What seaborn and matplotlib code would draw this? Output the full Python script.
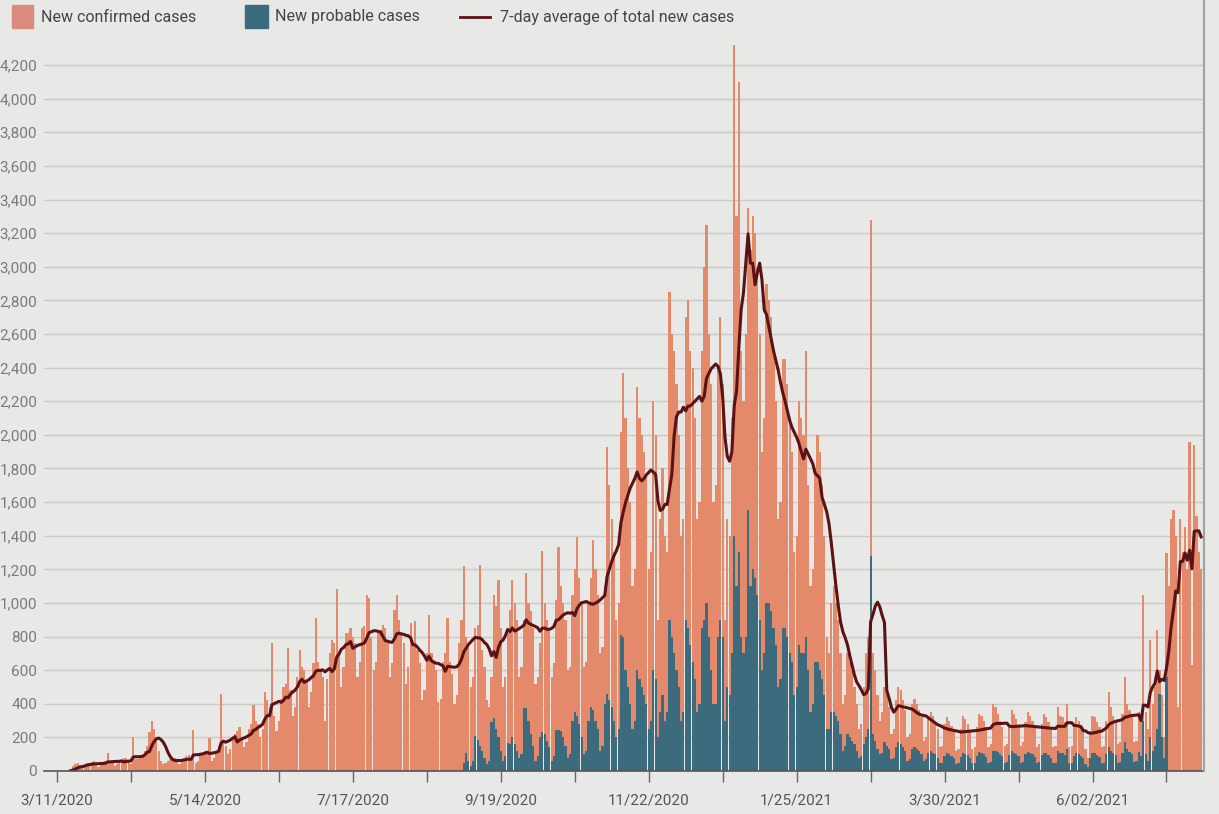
import numpy as np
import pandas as pd
import matplotlib.pyplot as plt
from matplotlib.patches import Rectangle
from matplotlib.lines import Line2D
import seaborn as sns

# Daily new cases (confirmed + probable), one row per week, first day 3/11/2020
total_cases = [
    0, 0, 0, 0, 0, 5, 10,
    30, 40, 45, 35, 20, 30, 45,
    50, 55, 60, 40, 25, 35, 50,
    60, 110, 60, 50, 30, 40, 55,
    70, 75, 80, 60, 40, 200, 70,
    70, 80, 90, 120, 150, 230, 300,
    250, 200, 120, 60, 40, 50, 60,
    70, 80, 75, 60, 40, 55, 80,
    90, 95, 60, 245, 50, 60, 95,
    110, 120, 100, 195, 60, 80, 120,
    150, 460, 180, 150, 100, 130, 190,
    220, 240, 260, 200, 140, 170, 250,
    280, 390, 300, 280, 200, 250, 470,
    420, 380, 760, 330, 240, 300, 430,
    500, 520, 730, 480, 330, 380, 560,
    720, 620, 600, 540, 380, 470, 640,
    910, 650, 600, 560, 300, 550, 700,
    780, 760, 1080, 700, 500, 620, 820,
    820, 850, 800, 760, 560, 650, 850,
    860, 1050, 1030, 800, 600, 650, 820,
    840, 870, 850, 780, 560, 640, 960,
    1050, 900, 820, 760, 520, 620, 880,
    760, 890, 720, 640, 420, 480, 700,
    930, 700, 660, 600, 410, 430, 650,
    700, 910, 650, 580, 400, 450, 760,
    900, 1220, 800, 740, 500, 560, 850,
    870, 1225, 720, 620, 420, 380, 560,
    1050, 980, 1135, 850, 500, 560, 820,
    960, 1135, 1000, 900, 560, 620, 900,
    1180, 1000, 950, 850, 520, 560, 760,
    1310, 1000, 900, 850, 560, 640, 1020,
    1330, 1100, 1000, 900, 600, 620, 1050,
    1200, 1390, 1150, 1000, 620, 650, 1000,
    1150, 1375, 1200, 1050, 700, 740, 1100,
    1930, 1700, 1500, 1300, 900, 1000, 2015,
    2370, 2100, 1800, 1600, 1100, 1200, 2285,
    2100, 2000, 1900, 1750, 1200, 1300, 2200,
    2000, 900, 1500, 1800, 1400, 1300, 2850,
    2600, 2500, 2300, 2000, 1400, 1500, 2700,
    2800, 2500, 2400, 2100, 1500, 1600, 2500,
    3000, 3250, 2600, 2300, 1600, 1700, 2400,
    2700, 2300, 900, 1500, 1400, 2100, 4320,
    3300, 4100, 2500, 2200, 2600, 3350, 3100,
    3300, 3200, 3000, 2600, 1900, 2100, 2900,
    2800, 2700, 2500, 2200, 1500, 1600, 2450,
    2450, 2300, 2100, 1900, 1300, 1400, 2200,
    2100, 2000, 2500, 1700, 1100, 1200, 1800,
    2000, 1900, 1700, 1400, 800, 700, 1000,
    1100, 1000, 900, 700, 400, 450, 700,
    650, 600, 500, 400, 250, 280, 500,
    700, 800, 3280, 700, 600, 450, 300,
    350, 500, 450, 380, 220, 250, 420,
    500, 480, 420, 360, 200, 220, 400,
    430, 400, 360, 320, 180, 200, 330,
    350, 330, 290, 250, 140, 150, 280,
    320, 300, 270, 230, 120, 130, 250,
    330, 310, 280, 240, 130, 140, 260,
    340, 330, 300, 260, 140, 160, 400,
    380, 340, 300, 260, 150, 160, 280,
    360, 340, 310, 270, 150, 170, 290,
    350, 330, 300, 260, 140, 160, 280,
    340, 320, 290, 250, 140, 150, 380,
    330, 320, 290, 400, 140, 150, 270,
    320, 300, 270, 230, 130, 80, 240,
    330, 320, 290, 260, 140, 150, 300,
    470, 380, 330, 300, 160, 170, 340,
    560, 400, 360, 320, 170, 180, 350,
    320, 1045, 350, 250, 780, 400, 500,
    840, 600, 450, 200, 1295, 1100, 1500,
    1550, 1400, 380, 1500, 1300, 1450, 1200,
    1960, 630, 1940, 1520, 1300, 1200,
]

# Probable cases were only reported from early September 2020 on
probable_cases = [0] * 175 + [
    0, 50, 110, 60, 30, 60, 210,
    185, 150, 120, 80, 40, 60, 290,
    315, 250, 200, 120, 60, 90, 165,
    160, 200, 160, 120, 80, 100, 375,
    375, 300, 220, 150, 60, 90, 200,
    230, 220, 180, 140, 60, 90, 245,
    245, 240, 200, 150, 80, 100, 300,
    350, 330, 280, 200, 100, 120, 300,
    380, 360, 300, 250, 120, 150, 400,
    460, 420, 380, 300, 200, 250, 810,
    800, 600, 500, 400, 250, 300, 600,
    550, 500, 450, 400, 250, 300, 600,
    550, 200, 350, 450, 300, 350, 900,
    800, 700, 600, 500, 300, 350, 900,
    850, 750, 650, 550, 350, 400, 850,
    900, 1000, 800, 600, 400, 400, 800,
    900, 800, 300, 500, 450, 700, 1400,
    1100, 1300, 800, 700, 800, 1550, 1100,
    1200, 1150, 1050, 900, 600, 700, 1000,
    1000, 950, 850, 750, 500, 550, 850,
    850, 800, 700, 650, 450, 500, 750,
    700, 700, 800, 600, 350, 400, 650,
    650, 600, 550, 450, 250, 250, 350,
    350, 330, 300, 220, 120, 150, 220,
    200, 180, 160, 120, 80, 90, 160,
    200, 250, 1280, 220, 180, 130, 100,
    110, 170, 150, 130, 70, 80, 140,
    170, 160, 140, 120, 60, 70, 130,
    140, 130, 120, 100, 60, 70, 110,
    120, 110, 100, 80, 50, 50, 90,
    110, 100, 90, 80, 40, 45, 85,
    110, 100, 95, 80, 45, 50, 90,
    115, 110, 100, 85, 45, 55, 120,
    120, 115, 100, 90, 50, 55, 95,
    120, 110, 100, 90, 50, 55, 100,
    115, 110, 100, 85, 45, 55, 95,
    110, 105, 95, 80, 45, 50, 120,
    110, 105, 95, 130, 45, 50, 90,
    105, 100, 90, 75, 40, 25, 80,
    110, 105, 95, 85, 45, 50, 100,
    140, 120, 105, 95, 50, 55, 110,
    170, 130, 115, 100, 55, 60, 115,
    90, 300, 100, 60, 200, 120, 150,
    250, 460, 200, 80, 560, 0, 0,
    0, 0, 0, 0, 0, 0, 0,
    0, 0, 0, 0, 0, 0,
]

tick_dates = ["2020-03-11", "2020-05-14", "2020-07-17", "2020-09-19",
              "2020-11-22", "2021-01-25", "2021-03-30", "2021-06-02"]
tick_labels = ["3/11/2020", "5/14/2020", "7/17/2020", "9/19/2020",
               "11/22/2020", "1/25/2021", "3/30/2021", "6/02/2021"]

start = pd.Timestamp("2020-03-11")
df = pd.DataFrame({"total": total_cases, "probable": probable_cases})
df["day"] = np.arange(len(df))
df["confirmed"] = df["total"] - df["probable"]
df["avg7"] = df["total"].rolling(7).mean()

bg = "#e8e9e7"
c_conf = "#e4896a"
c_prob = "#3d6b7e"
c_line = "#5a1214"

plt.rcParams["font.family"] = ["Roboto", "DejaVu Sans"]
W, H = 1219, 814
fig = plt.figure(figsize=(W / 100, H / 100), dpi=100, facecolor=bg)
ax = fig.add_axes([44 / W, 1 - 771 / H, (1203 - 44) / W, (771 - 40) / H])
ax.set_facecolor(bg)

# stacked bars: total in salmon, probable part drawn over it from zero
sns.barplot(data=df, x="day", y="total", native_scale=True, color=c_conf,
            saturation=1, width=0.95, linewidth=0, errorbar=None, ax=ax)
sns.barplot(data=df, x="day", y="probable", native_scale=True, color=c_prob,
            saturation=1, width=0.95, linewidth=0, errorbar=None, ax=ax)
sns.lineplot(data=df, x="day", y="avg7", color=c_line, linewidth=2.2, ax=ax)

ax.set_xlim(-5.6, 495.8)
ax.set_ylim(0, 4349)
ax.set_xlabel("")
ax.set_ylabel("")

yt = np.arange(0, 4201, 200)
ax.set_yticks(yt)
ax.set_yticklabels([f"{v:,}" for v in yt], fontsize=11, color="#7a7a7a")
ax.tick_params(axis="y", length=0, pad=5)
for v in yt[1:]:
    ax.axhline(v, color="#c9cac8", linewidth=1, zorder=0.5)

major = [(pd.Timestamp(d) - start).days for d in tick_dates]
ax.set_xticks(major)
ax.set_xticklabels(tick_labels, fontsize=11, color="#555555")
ax.set_xticks([m + 32 for m in major], minor=True)
ax.tick_params(axis="x", which="both", length=8, width=1, color="#666666",
               direction="out", pad=8)

for s in ["top", "right", "left"]:
    ax.spines[s].set_visible(False)
ax.spines["bottom"].set_color("#555555")
ax.spines["bottom"].set_linewidth(1.2)

# screen edge line on the right
fig.add_artist(Line2D([1204 / W, 1204 / W], [1 - 771 / H, 1], color="#a0a2a0",
                      linewidth=1.5, transform=fig.transFigure))


# legend row at the top
def px(x, y):
    return x / W, 1 - y / H


fig.add_artist(Rectangle(px(12, 28), 21 / W, 23 / H, color="#d98b7e",
                         transform=fig.transFigure))
fig.text(*px(41, 17), "New confirmed cases", fontsize=11.5, color="#444444", va="center")
fig.add_artist(Rectangle(px(245, 28), 23 / W, 23 / H, color=c_prob,
                         transform=fig.transFigure))
fig.text(*px(275, 17), "New probable cases", fontsize=11.5, color="#444444", va="center")
fig.add_artist(Line2D([460 / W, 490 / W], [1 - 17 / H, 1 - 17 / H], color=c_line,
                      linewidth=2, transform=fig.transFigure))
fig.text(*px(500, 17), "7-day average of total new cases", fontsize=11.5,
         color="#444444", va="center")

fig.savefig("out.png", dpi=100, facecolor=bg)
